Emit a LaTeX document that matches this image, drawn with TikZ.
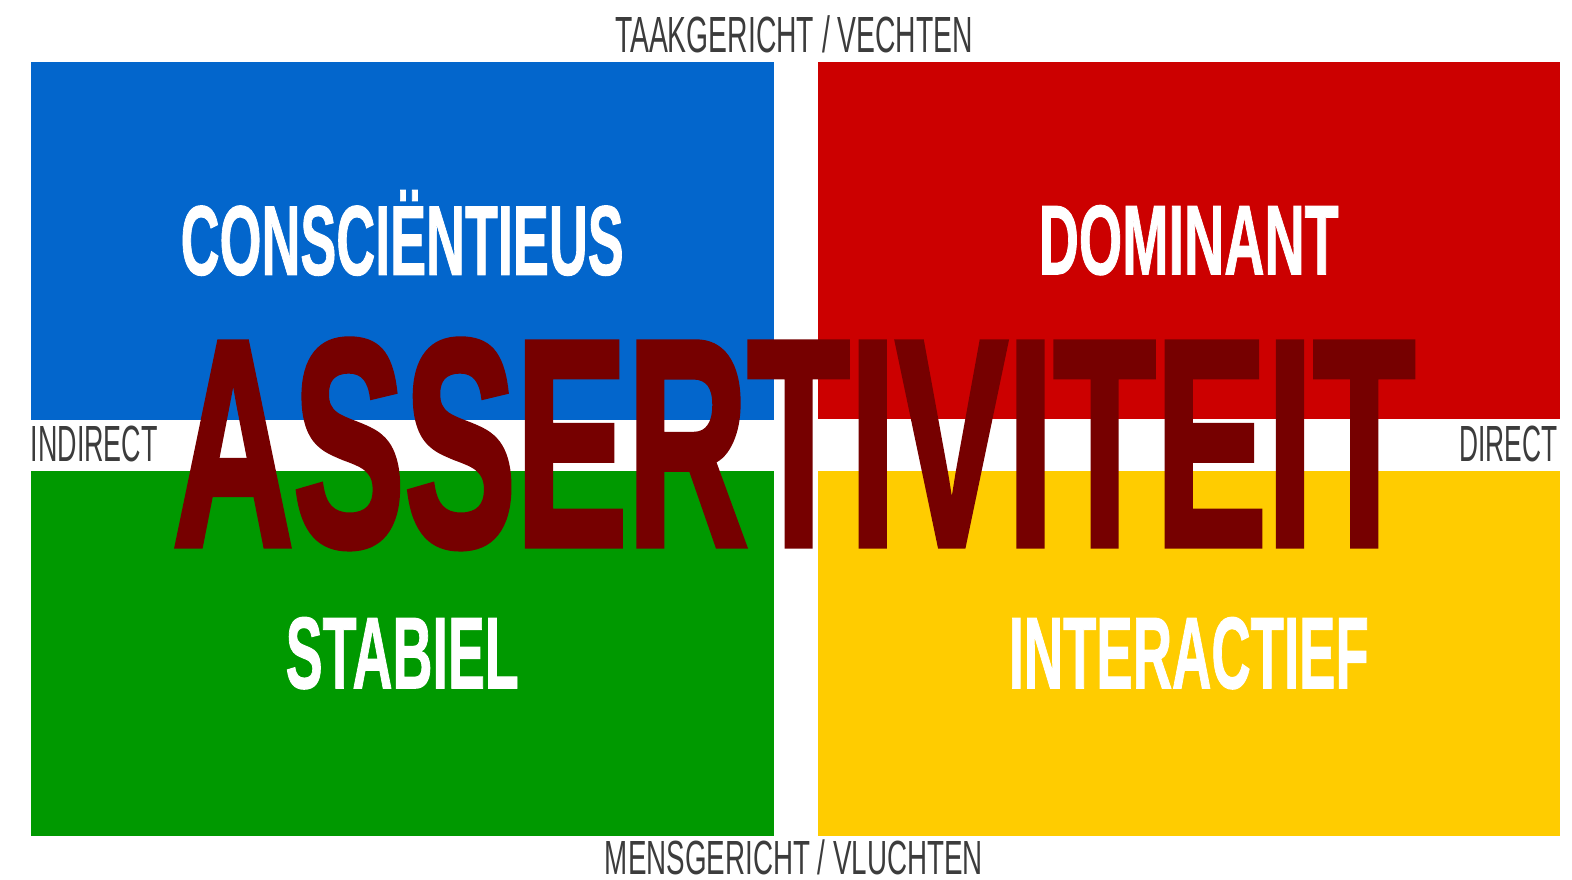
\documentclass[tikz,border=0pt]{standalone}
\usepackage{fontspec}
\setmainfont{Liberation Sans}
\newfontfamily\heavyfont[FakeBold=2.5]{Liberation Sans Bold}
\newfontfamily\labelfont[FakeBold=1.2]{Liberation Sans Bold}
\usepackage{graphicx}

\definecolor{discblue}{HTML}{0366CC}
\definecolor{discred}{HTML}{CC0000}
\definecolor{discgreen}{HTML}{009900}
\definecolor{discyellow}{HTML}{FFCC00}
\definecolor{darkred}{HTML}{760000}
\definecolor{axisgray}{HTML}{3C3C3C}

% caps squeezed to a given width and cap height
\newcommand{\capsbox}[3]{\resizebox{#1}{#2}{\vphantom{I}\smash{#3}}}

\tikzset{
  quad/.style={rectangle, inner sep=0pt, anchor=north west, text=white, font=\labelfont},
  axislabel/.style={inner sep=0pt, text=axisgray}
}

\begin{document}
\begin{tikzpicture}
\useasboundingbox (0,0) rectangle (15.72,8.80);
\fill[white] (0,0) rectangle (15.72,8.80);

% the four quadrants
\node[quad, fill=discblue, minimum width=7.43cm, minimum height=3.58cm] (c) at (0.30,8.19) {\capsbox{4.43cm}{0.68cm}{CONSCIËNTIEUS}};
\node[quad, fill=discred, minimum width=7.42cm, minimum height=3.57cm] (d) at (8.17,8.19) {\capsbox{3.00cm}{0.68cm}{DOMINANT}};
\node[quad, fill=discgreen, minimum width=7.43cm, minimum height=3.65cm] (s) at (0.30,4.10) {\capsbox{2.33cm}{0.70cm}{STABIEL}};
\node[quad, fill=discyellow, minimum width=7.42cm, minimum height=3.65cm] (i) at (8.17,4.10) {\capsbox{3.60cm}{0.70cm}{INTERACTIEF}};

% axes
\node[axislabel] (task) at (7.94,8.445) {\capsbox{3.58cm}{0.35cm}{TAAKGERICHT / VECHTEN}};
\node[axislabel] (people) at (7.94,0.22) {\capsbox{3.78cm}{0.33cm}{MENSGERICHT / VLUCHTEN}};
\node[axislabel, anchor=west] (indirect) at (0.30,4.355) {\capsbox{1.27cm}{0.35cm}{INDIRECT}};
\node[axislabel, anchor=east] (direct) at (15.58,4.355) {\capsbox{0.98cm}{0.35cm}{DIRECT}};

% title across the middle
\node[inner sep=0pt, text=darkred, font=\heavyfont] (title) at (7.94,4.36) {\capsbox{12.42cm}{2.02cm}{ASSERTIVITEIT}};
\end{tikzpicture}
\end{document}
